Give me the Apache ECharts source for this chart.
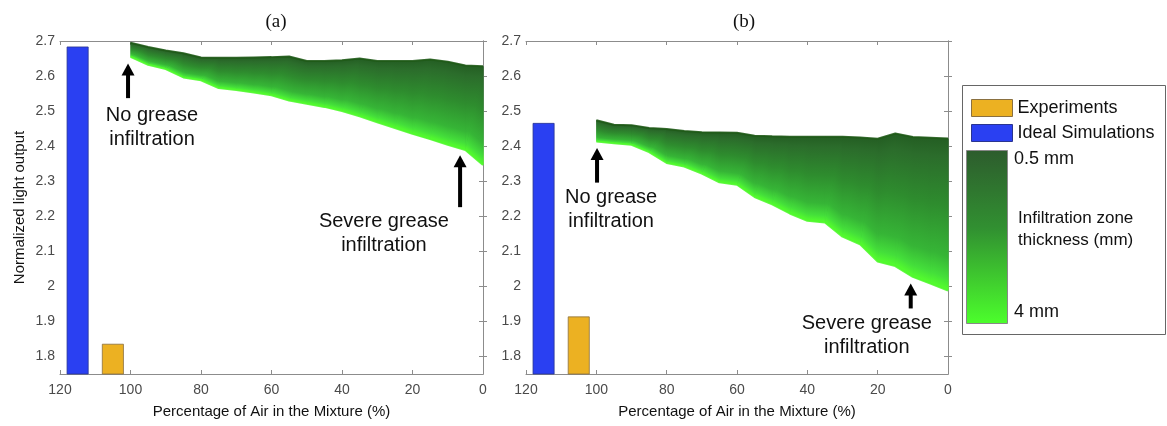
<!DOCTYPE html>
<html>
<head>
<meta charset="utf-8">
<script src="https://cdn.jsdelivr.net/npm/echarts@6/dist/echarts.min.js"></script>
<style>
html,body{margin:0;padding:0;background:#fff;}
#chart{width:1167px;height:426px;}
</style>
</head>
<body>
<div id="chart"></div>
<script>
// ---------------- DATA ----------------
const airPct = [100, 95, 90, 85, 80, 75, 70, 65, 60, 55, 50, 45, 40, 35, 30, 25, 20, 15, 10, 5, 0];
// Panel (a): 0.5 mm (upper) and 4 mm (lower) infiltration curves
const a_thin  = [2.695, 2.683, 2.673, 2.665, 2.653, 2.652, 2.652, 2.653, 2.654, 2.656, 2.643, 2.643, 2.645, 2.650, 2.643, 2.643, 2.643, 2.647, 2.641, 2.630, 2.628];
const a_thick = [2.655, 2.632, 2.620, 2.596, 2.588, 2.566, 2.560, 2.553, 2.545, 2.530, 2.521, 2.512, 2.500, 2.485, 2.468, 2.452, 2.435, 2.420, 2.404, 2.389, 2.346];
// Panel (b)
const b_thin  = [2.474, 2.461, 2.460, 2.452, 2.449, 2.443, 2.440, 2.439, 2.438, 2.430, 2.428, 2.427, 2.427, 2.427, 2.427, 2.425, 2.421, 2.436, 2.426, 2.424, 2.422];
const b_thick = [2.413, 2.408, 2.404, 2.383, 2.352, 2.342, 2.322, 2.297, 2.290, 2.255, 2.234, 2.208, 2.187, 2.182, 2.142, 2.120, 2.071, 2.058, 2.027, 2.008, 1.988];
// Bars: [x position (%), normalized light output]
const a_ideal = [[115, 2.683]];
const a_exp   = [[105, 1.835]];
const b_ideal = [[115, 2.465]];
const b_exp   = [[105, 1.913]];
// Axis ticks
const xTicks = [0, 20, 40, 60, 80, 100, 120];
const yTicks = [1.8, 1.9, 2.0, 2.1, 2.2, 2.3, 2.4, 2.5, 2.6, 2.7];
// Annotations: arrows [x, yTail, yHead], notes [x, y, text]
const a_arrows = [[100.7, 2.537, 2.636], [6.5, 2.226, 2.374]];
const a_notes  = [[93.9, 2.452, 'No grease\ninfiltration'], [28.1, 2.151, 'Severe grease\ninfiltration']];
const b_arrows = [[99.8, 2.296, 2.395], [10.6, 1.937, 2.008]];
const b_notes  = [[95.8, 2.218, 'No grease\ninfiltration'], [23.1, 1.861, 'Severe grease\ninfiltration']];

// ---------------- STYLE ----------------
const YMIN = 1.75, YMAX = 2.7;
const BAR_HALF = 3;
const BLUE = '#2a40f2', ORANGE = '#ecb122';
const FONT = '"Liberation Sans", Arial, Helvetica, sans-serif';
const bandStops = [
  {offset: 0, color: '#245e23'},
  {offset: 0.12, color: '#2b6c2b'},
  {offset: 0.45, color: '#2e8c2e'},
  {offset: 0.78, color: '#36b536'},
  {offset: 0.92, color: '#44df3a'},
  {offset: 1, color: '#55ff2c'}
];

function bandData(xs, top, bot) {
  const out = [];
  for (let i = 0; i < xs.length - 1; i++) {
    out.push([xs[i], top[i], bot[i], xs[i + 1], top[i + 1], bot[i + 1]]);
  }
  return out;
}
// perpendicular component of (P - A) relative to the line direction (B - A)
function perp(A, B, P) {
  const ux = B[0] - A[0], uy = B[1] - A[1];
  const wx = P[0] - A[0], wy = P[1] - A[1];
  const k = (wx * ux + wy * uy) / (ux * ux + uy * uy);
  return [wx - k * ux, wy - k * uy];
}
// Each facet is split in two triangles; each triangle gets an exact affine
// gradient so shading is continuous across facets. An underlying quad hides
// anti-aliasing seams.
function renderBand(params, api) {
  const T0 = api.coord([api.value(0), api.value(1)]);
  const B0 = api.coord([api.value(0), api.value(2)]);
  const T1 = api.coord([api.value(3), api.value(4)]);
  const B1 = api.coord([api.value(3), api.value(5)]);
  const w1 = perp(T0, T1, B0);
  const g1 = {type: 'linear', global: true, x: T0[0], y: T0[1], x2: T0[0] + w1[0], y2: T0[1] + w1[1], colorStops: bandStops};
  const w2 = perp(B0, B1, T1);
  const g2 = {type: 'linear', global: true, x: B0[0] + w2[0], y: B0[1] + w2[1], x2: B0[0], y2: B0[1], colorStops: bandStops};
  const mx = (T0[0] + T1[0]) / 2;
  const gq = {type: 'linear', global: true, x: mx, y: (T0[1] + T1[1]) / 2, x2: mx, y2: (B0[1] + B1[1]) / 2, colorStops: bandStops};
  const ov = 0.7;
  return {
    type: 'group',
    children: [
      {type: 'polygon', shape: {points: [[T0[0], T0[1]], [T1[0] + ov, T1[1]], [B1[0] + ov, B1[1]], [B0[0], B0[1]]]}, style: {fill: gq}},
      {type: 'polygon', shape: {points: [T0, T1, B0]}, style: {fill: g1}},
      {type: 'polygon', shape: {points: [T1, B1, B0]}, style: {fill: g2}}
    ]
  };
}
function renderBar(params, api) {
  const x = api.value(0), v = api.value(1);
  const p1 = api.coord([x + BAR_HALF, v]);
  const p2 = api.coord([x - BAR_HALF, YMIN]);
  return {
    type: 'rect',
    shape: {x: p1[0], y: p1[1], width: p2[0] - p1[0], height: p2[1] - p1[1]},
    style: api.style()
  };
}
function renderArrow(params, api) {
  const x = api.value(0);
  const tail = api.coord([x, api.value(1)]);
  const head = api.coord([x, api.value(2)]);
  const hl = 12, hw = 6.5;
  return {
    type: 'group',
    children: [
      {type: 'line', shape: {x1: tail[0], y1: tail[1], x2: head[0], y2: head[1] + hl - 1},
       style: {stroke: '#000', lineWidth: 4}},
      {type: 'polygon', shape: {points: [[head[0], head[1]], [head[0] - hw, head[1] + hl], [head[0] + hw, head[1] + hl]]},
       style: {fill: '#000'}}
    ]
  };
}
function renderNote(params, api) {
  const p = api.coord([api.value(0), api.value(1)]);
  return {
    type: 'text',
    x: p[0], y: p[1],
    style: {text: api.value(2), fill: '#111', font: '20px ' + FONT, align: 'center', verticalAlign: 'middle', lineHeight: 24}
  };
}

const axisLineStyle = {color: '#8c8c8c', width: 1};
function xAxes(gridIndex) {
  return [
    {gridIndex, type: 'value', min: 0, max: 120, interval: 20, inverse: true, position: 'bottom',
     name: 'Percentage of Air in the Mixture (%)', nameLocation: 'middle', nameGap: 30,
     nameTextStyle: {fontFamily: FONT, fontSize: 15, color: '#111'},
     axisLine: {show: true, lineStyle: axisLineStyle},
     axisTick: {show: true, inside: true, length: 4, lineStyle: axisLineStyle},
     axisLabel: {show: true, margin: 9, fontFamily: FONT, fontSize: 14, color: '#4a4a4a'},
     splitLine: {show: false}},
    {gridIndex, type: 'value', min: 0, max: 120, interval: 20, inverse: true, position: 'top',
     axisLine: {show: true, lineStyle: axisLineStyle},
     axisTick: {show: true, inside: true, length: 4, lineStyle: axisLineStyle},
     axisLabel: {show: false}, splitLine: {show: false}}
  ];
}
function yAxes(gridIndex, withName) {
  return [
    {gridIndex, type: 'value', min: YMIN, max: YMAX, position: 'left',
     name: withName ? 'Normalized light output' : '', nameLocation: 'middle', nameGap: 33,
     nameTextStyle: {fontFamily: FONT, fontSize: 15, color: '#111'},
     axisLine: {show: true, lineStyle: axisLineStyle},
     axisTick: {show: true, inside: true, length: 4, lineStyle: axisLineStyle, customValues: yTicks},
     axisLabel: {show: true, margin: 5, fontFamily: FONT, fontSize: 14, color: '#4a4a4a', customValues: yTicks,
                 formatter: v => String(Math.round(v * 10) / 10)},
     splitLine: {show: false}},
    {gridIndex, type: 'value', min: YMIN, max: YMAX, position: 'right',
     axisLine: {show: true, lineStyle: axisLineStyle},
     axisTick: {show: true, inside: true, length: 4, lineStyle: axisLineStyle, customValues: yTicks},
     axisLabel: {show: false}, splitLine: {show: false}}
  ];
}
function edgeLine(xi, yi, vals, color, width) {
  return {type: 'line', xAxisIndex: xi, yAxisIndex: yi, data: airPct.map((x, i) => [x, vals[i]]),
          showSymbol: false, silent: true, z: 2.5, lineStyle: {color, width, opacity: 0.9}};
}
function panelSeries(xi, yi, thin, thick, ideal, exp, arrows, notes) {
  return [
    {type: 'custom', name: 'band', xAxisIndex: xi, yAxisIndex: yi, renderItem: renderBand,
     data: bandData(airPct, thin, thick), silent: true, z: 2},
    edgeLine(xi, yi, thin, '#1f5a17', 2),
    edgeLine(xi, yi, thick, '#50f82e', 2),
    {type: 'custom', name: 'Ideal Simulations', xAxisIndex: xi, yAxisIndex: yi, renderItem: renderBar,
     itemStyle: {color: BLUE, borderColor: '#2a3590', borderWidth: 0.8}, data: ideal, z: 3},
    {type: 'custom', name: 'Experiments', xAxisIndex: xi, yAxisIndex: yi, renderItem: renderBar,
     itemStyle: {color: ORANGE, borderColor: '#8a7040', borderWidth: 0.8}, data: exp, z: 3},
    {type: 'custom', name: 'arrows', xAxisIndex: xi, yAxisIndex: yi, renderItem: renderArrow,
     data: arrows, silent: true, z: 5},
    {type: 'custom', name: 'notes', xAxisIndex: xi, yAxisIndex: yi, renderItem: renderNote,
     data: notes, silent: true, z: 5}
  ];
}

const option = {
  animation: false,
  backgroundColor: '#fff',
  title: [
    {text: '(a)', left: 271, top: 8, textAlign: 'center',
     textStyle: {fontFamily: '"Liberation Serif", "Times New Roman", serif', fontSize: 19, fontWeight: 'normal', color: '#111'}},
    {text: '(b)', left: 739, top: 8, textAlign: 'center',
     textStyle: {fontFamily: '"Liberation Serif", "Times New Roman", serif', fontSize: 19, fontWeight: 'normal', color: '#111'}}
  ],
  grid: [
    {left: 60, top: 41, width: 423, height: 333},
    {left: 526, top: 41, width: 422, height: 333}
  ],
  xAxis: [...xAxes(0), ...xAxes(1)],
  yAxis: [...yAxes(0, true), ...yAxes(1, false)],
  legend: {
    orient: 'vertical', left: 966, top: 94, itemWidth: 41, itemHeight: 17, itemGap: 7,
    selectedMode: false,
    textStyle: {fontFamily: FONT, fontSize: 18, color: '#111'},
    data: [
      {name: 'Experiments', icon: 'rect', itemStyle: {color: ORANGE, borderColor: '#8a7040', borderWidth: 1}},
      {name: 'Ideal Simulations', icon: 'rect', itemStyle: {color: BLUE, borderColor: '#2a3590', borderWidth: 1}}
    ]
  },
  graphic: [
    {type: 'rect', left: 960, top: 83, shape: {width: 203, height: 249},
     style: {fill: 'none', stroke: '#666', lineWidth: 1}, z: -1},
    {type: 'rect', left: 966, top: 150, shape: {width: 41, height: 173},
     style: {
       fill: {type: 'linear', x: 0, y: 0, x2: 0, y2: 1,
              colorStops: [{offset: 0, color: '#2d5c2d'}, {offset: 0.45, color: '#319031'}, {offset: 1, color: '#4cff2c'}]},
       stroke: '#888', lineWidth: 1}},
    {type: 'text', left: 1014, top: 150, style: {text: '0.5 mm', font: '18px ' + FONT, fill: '#111'}},
    {type: 'text', left: 1018, top: 207, style: {text: 'Infiltration zone\nthickness (mm)', font: '17px ' + FONT, fill: '#111', lineHeight: 22}},
    {type: 'text', left: 1014, top: 303, style: {text: '4 mm', font: '18px ' + FONT, fill: '#111'}}
  ],
  series: [
    ...panelSeries(0, 0, a_thin, a_thick, a_ideal, a_exp, a_arrows, a_notes),
    ...panelSeries(2, 2, b_thin, b_thick, b_ideal, b_exp, b_arrows, b_notes)
  ]
};

const chart = echarts.init(document.getElementById('chart'), null, {renderer: 'canvas'});
chart.setOption(option);
</script>
</body>
</html>
